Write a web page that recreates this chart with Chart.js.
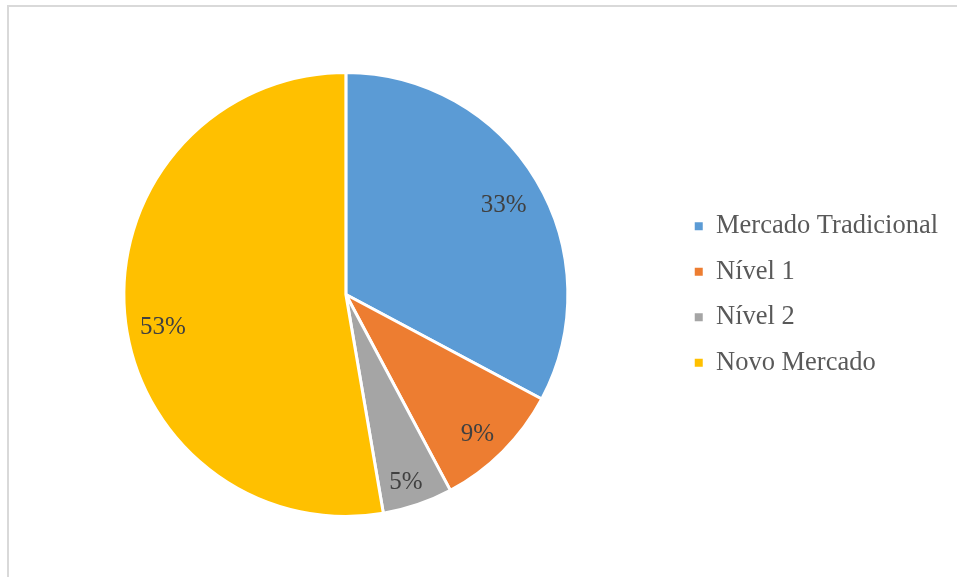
<!doctype html>
<html>

<head>
	<meta charset="utf-8">
	<title>Pie Chart - Segmentos de listagem</title>
	<script src="https://cdn.jsdelivr.net/npm/chart.js@4/dist/chart.umd.min.js"></script>
	<style>
		body {
			margin: 0;
			background: #fff;
		}
		#frame {
			position: absolute;
			left: 7px;
			top: 5px;
			width: 960px;
			height: 580px;
			border-left: 2px solid #d9d9d9;
			border-top: 2px solid #d9d9d9;
		}
		#holder {
			position: absolute;
			left: 0;
			top: 0;
			width: 957px;
			height: 577px;
		}
	</style>
</head>

<body>
	<div id="frame"></div>
	<div id="holder">
		<canvas id="chart"></canvas>
	</div>
	<script>
		var segments = ['Mercado Tradicional', 'Nível 1', 'Nível 2', 'Novo Mercado'];
		var shares = [32.8, 9.4, 5.1, 52.7];
		var sliceColors = ['#5b9bd5', '#ed7d31', '#a5a5a5', '#ffc000'];

		var serif = '"Times New Roman", "Liberation Serif", serif';

		// percentage labels inside each slice
		var sliceLabels = {
			id: 'sliceLabels',
			afterDatasetsDraw: function(chart, args, opts) {
				var ctx = chart.ctx;
				var meta = chart.getDatasetMeta(0);
				var values = chart.data.datasets[0].data;
				var total = values.reduce(function(a, b) { return a + b; }, 0);
				var nudge = opts.nudge || [];
				ctx.save();
				ctx.font = '25px ' + serif;
				ctx.fillStyle = '#404040';
				ctx.textAlign = 'center';
				ctx.textBaseline = 'middle';
				meta.data.forEach(function(arc, i) {
					var p = arc.getProps(['x', 'y', 'startAngle', 'endAngle', 'outerRadius'], true);
					var mid = (p.startAngle + p.endAngle) / 2;
					var r = p.outerRadius * 0.85;
					var n = nudge[i] || [0, 0];
					var text = Math.round(values[i] / total * 100) + '%';
					ctx.fillText(text, p.x + Math.cos(mid) * r + n[0], p.y + Math.sin(mid) * r + n[1]);
				});
				ctx.restore();
			}
		};

		window.onload = function() {
			var chartEl = document.getElementById('chart');
			window.myPie = new Chart(chartEl, {
				type: 'pie',
				data: {
					labels: segments,
					datasets: [{
						data: shares,
						backgroundColor: sliceColors,
						borderColor: '#ffffff',
						borderWidth: 3
					}]
				},
				options: {
					responsive: true,
					maintainAspectRatio: false,
					animation: false,
					layout: {
						padding: {left: 16, right: 9, top: 71, bottom: 59}
					},
					plugins: {
						legend: {
							position: 'right',
							labels: {
								boxWidth: 8,
								boxHeight: 8,
								padding: 19,
								color: '#595959',
								font: {family: serif, size: 26.5},
								generateLabels: function(chart) {
									var items = Chart.overrides.pie.plugins.legend.labels.generateLabels(chart);
									items.forEach(function(item) { item.lineWidth = 0; });
									return items;
								}
							}
						},
						tooltip: {enabled: false},
						sliceLabels: {
							nudge: [[-4, 8], [-2, 7], [-1, 9], [5, 17]]
						}
					}
				},
				plugins: [sliceLabels]
			});
		};
	</script>
</body>

</html>
